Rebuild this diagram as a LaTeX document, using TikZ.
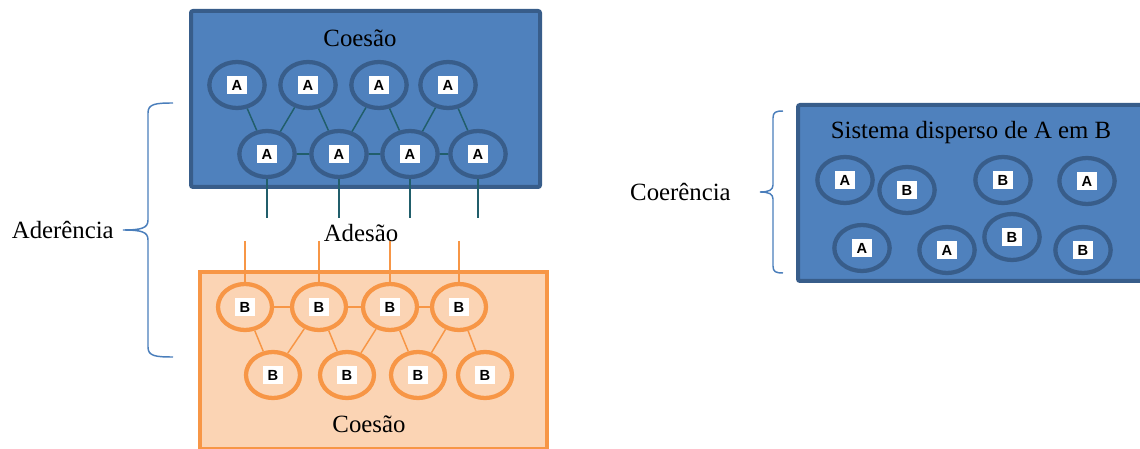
\documentclass[tikz,border=0pt]{standalone}
\usepackage{fontspec}
\setmainfont{Liberation Serif}
\newfontfamily\tagfont{Liberation Sans}
\usetikzlibrary{shapes.geometric}
\definecolor{bfill}{HTML}{4F81BD}
\definecolor{bline}{HTML}{385D8A}
\definecolor{teal}{HTML}{215E6B}
\definecolor{ofill}{HTML}{FBD4B4}
\definecolor{oline}{HTML}{F79646}
\definecolor{brace}{HTML}{4A7EBB}
\tikzset{
  bluebox/.style={draw=bline, fill=bfill, line width=3pt, rounded corners=1.5pt},
  orangebox/.style={draw=oline, fill=ofill, line width=3pt},
  ellA/.style={ellipse, draw=bline, line width=3.2pt, minimum width=41.5pt, minimum height=34.5pt, inner sep=0},
  ellB/.style={ellipse, draw=oline, line width=3.2pt, minimum width=40.5pt, minimum height=34.5pt, inner sep=0},
  tag/.style={fill=white, minimum width=15.5pt, minimum height=13pt, inner sep=0, font=\tagfont\bfseries\fontsize{11}{12}\selectfont},
  txt/.style={font=\fontsize{18.6}{20}\selectfont, inner sep=0},
  tlink/.style={draw=teal, line width=1.1pt},
  olink/.style={draw=oline, line width=1.1pt},
  bracestyle/.style={draw=brace, line width=1.1pt},
}
\begin{document}
\begin{tikzpicture}[x=0.75pt,y=-0.75pt]
\useasboundingbox (0,0) rectangle (1140,449);
% top blue box
\draw[bluebox] (191,11) rectangle (540,187);
\node[txt] (coesA) at (360,38) {Coesão};
% top row A
\node[ellA] (ta1) at (237,85) {};
\node[ellA] (ta2) at (308,85) {};
\node[ellA] (ta3) at (379,85) {};
\node[ellA] (ta4) at (448,85) {};
% bottom row A
\node[ellA] (ba1) at (267,154) {};
\node[ellA] (ba2) at (339,154) {};
\node[ellA] (ba3) at (410,154) {};
\node[ellA] (ba4) at (478,154) {};
\foreach \n in {ta1,ta2,ta3,ta4,ba1,ba2,ba3,ba4}{\node[tag] at (\n) {A};}
\draw[tlink] (ta1) -- (ba1) -- (ta2) -- (ba2) -- (ta3) -- (ba3) -- (ta4) -- (ba4);
\draw[tlink] (ba1) -- (ba2) (ba2) -- (ba3) (ba3) -- (ba4);
\coordinate (v1) at (267,218);
\coordinate (v2) at (339,218);
\coordinate (v3) at (410,218);
\coordinate (v4) at (478,218);
\draw[tlink] (ba1) -- (v1) (ba2) -- (v2) (ba3) -- (v3) (ba4) -- (v4);
\node[txt] (ades) at (361,233) {Adesão};
% orange box
\draw[orangebox] (200,272) rectangle (547,449);
\node[ellB] (tb1) at (245,307) {};
\node[ellB] (tb2) at (319,307) {};
\node[ellB] (tb3) at (390,307) {};
\node[ellB] (tb4) at (459,307) {};
\node[ellB] (bb1) at (273,375) {};
\node[ellB] (bb2) at (347,375) {};
\node[ellB] (bb3) at (418,375) {};
\node[ellB] (bb4) at (485,375) {};
\foreach \n in {tb1,tb2,tb3,tb4,bb1,bb2,bb3,bb4}{\node[tag] at (\n) {B};}
\draw[olink] (tb1) -- (bb1) -- (tb2) -- (bb2) -- (tb3) -- (bb3) -- (tb4) -- (bb4);
\draw[olink] (tb1) -- (tb2) (tb2) -- (tb3) (tb3) -- (tb4);
\coordinate (w1) at (245,241);
\coordinate (w2) at (319,241);
\coordinate (w3) at (390,241);
\coordinate (w4) at (459,241);
\draw[olink] (w1) -- (tb1) (w2) -- (tb2) (w3) -- (tb3) (w4) -- (tb4);
\node[txt] (coesB) at (369,424) {Coesão};
% left brace
\draw[bracestyle] (173,103) .. controls (155,103) and (148,104) .. (148,113) -- (148,220) .. controls (148,228) and (142,230) .. (123,230)
  .. controls (142,230) and (148,232) .. (148,240) -- (148,347) .. controls (148,356) and (155,357) .. (173,357);
\node[txt, anchor=east] (ader) at (114,230) {Aderência};
% right brace
\draw[bracestyle] (783,111) .. controls (776,111) and (773,112) .. (773,118) -- (773,185) .. controls (773,190) and (769,192) .. (760,192)
  .. controls (769,192) and (773,194) .. (773,199) -- (773,266) .. controls (773,272) and (776,273) .. (783,273);
\node[txt, anchor=east] (coer) at (731,192) {Coerência};
% right blue box
\draw[bluebox] (798,105) rectangle (1150,281);
\node[txt] (sist) at (971,133) {Sistema disperso de A em B};
\node[ellA] (ra1) at (845,180) {};
\node[ellA] (rb1) at (907,190) {};
\node[ellA] (rb2) at (1003,180) {};
\node[ellA] (ra2) at (1087,181) {};
\node[ellA] (ra3) at (862,248) {};
\node[ellA] (ra4) at (947,250) {};
\node[ellA] (rb3) at (1012,237) {};
\node[ellA] (rb4) at (1083,250) {};
\foreach \n in {ra1,ra2,ra3,ra4}{\node[tag] at (\n) {A};}
\foreach \n in {rb1,rb2,rb3,rb4}{\node[tag] at (\n) {B};}
\end{tikzpicture}
\end{document}
